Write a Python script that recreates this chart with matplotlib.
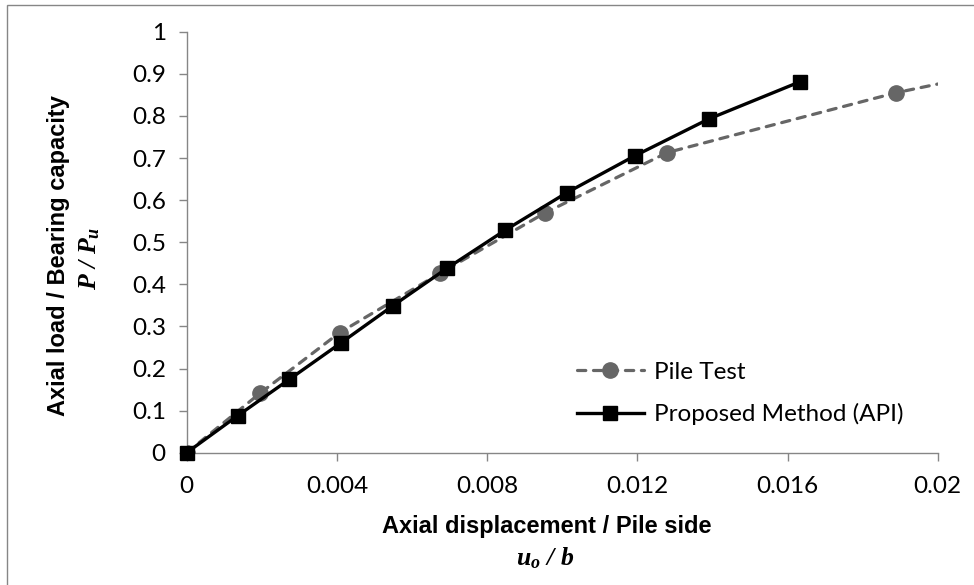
import numpy as np
import matplotlib
matplotlib.use("Agg")
import matplotlib.pyplot as plt
from matplotlib.patches import Rectangle

# Data
pile_x = [0.0, 0.00195, 0.00407, 0.00674, 0.00953, 0.0128, 0.01889, 0.0267]
pile_y = [0.0, 0.141, 0.285, 0.426, 0.569, 0.713, 0.855, 1.0]

api_x = [0.0, 0.00136, 0.00273, 0.00411, 0.00549, 0.00693,
         0.00849, 0.01013, 0.01193, 0.01391, 0.01633]
api_y = [0.0, 0.088, 0.174, 0.261, 0.349, 0.438,
         0.529, 0.618, 0.705, 0.793, 0.881]

x_ticks = [0, 0.004, 0.008, 0.012, 0.016, 0.02]
x_labels = ["0", "0.004", "0.008", "0.012", "0.016", "0.02"]
y_ticks = [0, 0.1, 0.2, 0.3, 0.4, 0.5, 0.6, 0.7, 0.8, 0.9, 1]
y_labels = ["0", "0.1", "0.2", "0.3", "0.4", "0.5", "0.6", "0.7", "0.8", "0.9", "1"]

plt.rcParams["font.family"] = ["Lato", "DejaVu Sans"]
plt.rcParams["mathtext.fontset"] = "custom"
plt.rcParams["mathtext.it"] = "Liberation Serif:italic:bold"
plt.rcParams["mathtext.rm"] = "Liberation Serif:italic:bold"

W, H = 974, 585
fig = plt.figure(figsize=(W / 100, H / 100), dpi=100)
ax = fig.add_axes([186.7 / W, 1 - 452.7 / H, (937.7 - 186.7) / W, (452.7 - 31.7) / H])

axis_grey = "#868686"

# chart area border (only top/left edges fall inside the image)
fig.add_artist(Rectangle((6.5 / W, -0.5), 2, 1 - 4.5 / H + 0.5,
                         transform=fig.transFigure, fill=False,
                         edgecolor=axis_grey, linewidth=1.0))

ax.plot(pile_x, pile_y, color="#666666", linewidth=2.3, linestyle=(0, (2.6, 2.4)),
        dash_capstyle="round", marker="o", markersize=11, label="Pile Test", zorder=3)
ax.plot(api_x, api_y, color="black", linewidth=2.4, marker="s", markersize=10,
        label="Proposed Method (API)", clip_on=False, zorder=4)

ax.set_xlim(0, 0.02)
ax.set_ylim(0, 1)
ax.set_xticks(x_ticks)
ax.set_xticklabels(x_labels)
ax.set_yticks(y_ticks)
ax.set_yticklabels(y_labels)

for s in ["top", "right"]:
    ax.spines[s].set_visible(False)
for s in ["left", "bottom"]:
    ax.spines[s].set_color(axis_grey)
    ax.spines[s].set_linewidth(1.0)

ax.tick_params(axis="both", direction="out", length=6, width=1.0, color=axis_grey,
               labelsize=17.5, labelcolor="black")
ax.tick_params(axis="y", pad=9)
ax.tick_params(axis="x", pad=11)

fig.text(58.5 / W, 1 - 256 / H, "Axial load / Bearing capacity", rotation=90,
         ha="center", va="center", fontsize=17, fontweight="bold",
         family="Liberation Sans")
fig.text(90 / W, 1 - 258 / H, r"$P\ /\ P_u$", rotation=90,
         ha="center", va="center", fontsize=18.5)
fig.text(546.7 / W, 1 - 527 / H, "Axial displacement / Pile side",
         ha="center", va="center", fontsize=17, fontweight="bold",
         family="Liberation Sans")
fig.text(545 / W, 1 - 558 / H, r"$u_o\ /\ b$",
         ha="center", va="center", fontsize=18.5)

ax.legend(loc="center left", bbox_to_anchor=(577 / W, 1 - 393.4 / H),
          bbox_transform=fig.transFigure, frameon=False, fontsize=17.5,
          handlelength=2.75, handletextpad=0.4, labelspacing=0.85,
          borderpad=0, borderaxespad=0, numpoints=1)

fig.savefig("out.png", dpi=100)
